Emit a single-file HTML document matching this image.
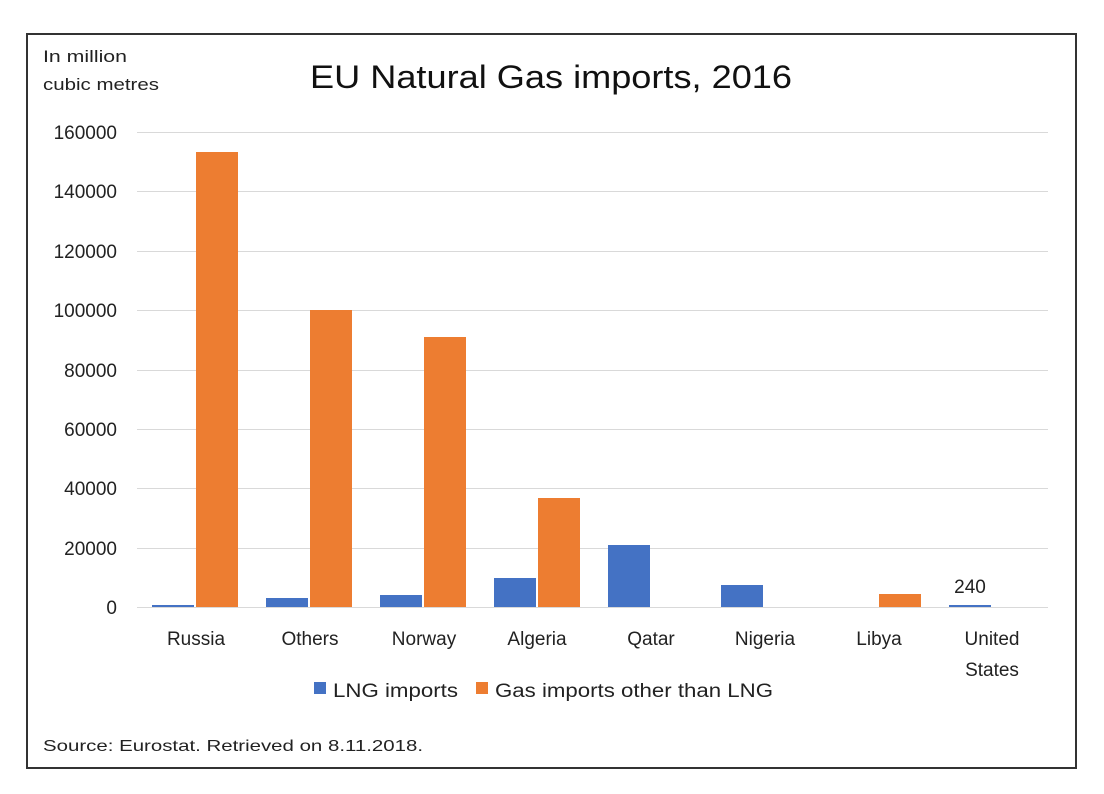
<!DOCTYPE html>
<html><head><meta charset="utf-8"><style>
html,body{margin:0;padding:0;background:#fff;}
svg{display:block;font-family:"Liberation Sans",sans-serif;}
</style></head><body>
<svg width="1104" height="794" viewBox="0 0 1104 794">
<rect x="27" y="34" width="1049" height="734" fill="#fff" stroke="#333" stroke-width="2"/>
<text x="43" y="62" font-size="17" fill="#222" textLength="84" lengthAdjust="spacingAndGlyphs">In million</text>
<text x="43" y="90" font-size="17" fill="#222" textLength="116" lengthAdjust="spacingAndGlyphs">cubic metres</text>
<text x="310" y="88" font-size="32" fill="#111" textLength="482" lengthAdjust="spacingAndGlyphs">EU Natural Gas imports, 2016</text>
<g stroke="#d9d9d9" stroke-width="1">
<line x1="137" x2="1048" y1="132.5" y2="132.5"/>
<line x1="137" x2="1048" y1="191.5" y2="191.5"/>
<line x1="137" x2="1048" y1="251.5" y2="251.5"/>
<line x1="137" x2="1048" y1="310.5" y2="310.5"/>
<line x1="137" x2="1048" y1="370.5" y2="370.5"/>
<line x1="137" x2="1048" y1="429.5" y2="429.5"/>
<line x1="137" x2="1048" y1="488.5" y2="488.5"/>
<line x1="137" x2="1048" y1="548.5" y2="548.5"/>
<line x1="137" x2="1048" y1="607.5" y2="607.5"/>
</g>
<g font-size="19" fill="#222" text-anchor="end">
<text x="117" y="139">160000</text>
<text x="117" y="198">140000</text>
<text x="117" y="258">120000</text>
<text x="117" y="317">100000</text>
<text x="117" y="377">80000</text>
<text x="117" y="436">60000</text>
<text x="117" y="495">40000</text>
<text x="117" y="555">20000</text>
<text x="117" y="614">0</text>
</g>
<g fill="#4472c4">
<rect x="152" y="605" width="42" height="2"/>
<rect x="266" y="598" width="42" height="9"/>
<rect x="380" y="595" width="42" height="12"/>
<rect x="494" y="578" width="42" height="29"/>
<rect x="608" y="545" width="42" height="62"/>
<rect x="721" y="585" width="42" height="22"/>
<rect x="949" y="605" width="42" height="2"/>
</g>
<g fill="#ed7d31">
<rect x="196" y="152" width="42" height="455"/>
<rect x="310" y="310" width="42" height="297"/>
<rect x="424" y="337" width="42" height="270"/>
<rect x="538" y="498" width="42" height="109"/>
<rect x="879" y="594" width="42" height="13"/>
</g>
<text x="970" y="593" font-size="19" fill="#222" text-anchor="middle">240</text>
<g font-size="19" fill="#222" text-anchor="middle">
<text x="196" y="645">Russia</text>
<text x="310" y="645">Others</text>
<text x="424" y="645">Norway</text>
<text x="537" y="645">Algeria</text>
<text x="651" y="645">Qatar</text>
<text x="765" y="645">Nigeria</text>
<text x="879" y="645">Libya</text>
<text x="992" y="645">United</text>
<text x="992" y="676">States</text>
</g>
<rect x="314" y="682" width="12" height="12" fill="#4472c4"/>
<text x="333" y="697" font-size="19" fill="#222" textLength="125" lengthAdjust="spacingAndGlyphs">LNG imports</text>
<rect x="476" y="682" width="12" height="12" fill="#ed7d31"/>
<text x="495" y="697" font-size="19" fill="#222" textLength="278" lengthAdjust="spacingAndGlyphs">Gas imports other than LNG</text>
<text x="43" y="751" font-size="16" fill="#222" textLength="380" lengthAdjust="spacingAndGlyphs">Source: Eurostat. Retrieved on 8.11.2018.</text>
</svg>
</body></html>
